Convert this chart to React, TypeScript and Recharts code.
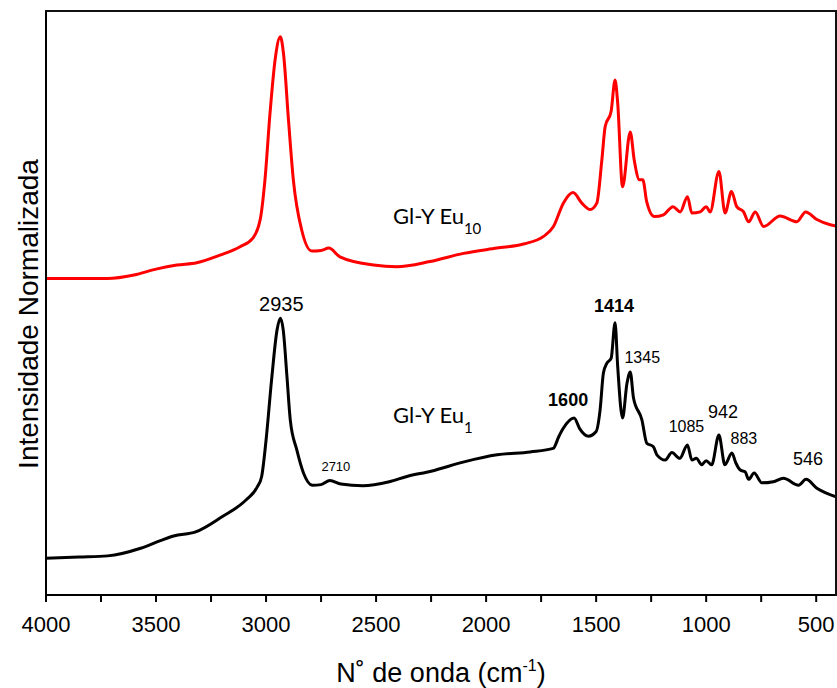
import React from 'react';
import { LineChart, Line, XAxis, YAxis, ReferenceDot, Label } from 'recharts';

// Raman spectra, normalized intensity (arbitrary units, stacked)
const euOneWavenumber = [
  4000, 3850, 3720, 3570, 3480, 3420, 3320, 3200, 3090, 3040, 3020, 3000, 2975, 2950, 2935, 2922, 2905,
  2890, 2860, 2830, 2790, 2750, 2710, 2660, 2560, 2440, 2360, 2250, 2100, 1950, 1800, 1695, 1670, 1650,
  1600, 1575, 1535, 1500, 1482, 1467, 1451, 1432, 1414, 1402, 1380, 1360, 1345, 1330, 1292, 1270, 1240,
  1224, 1186, 1156, 1120, 1085, 1065, 1045, 1020, 1000, 975, 942, 915, 883, 865, 845, 823, 807, 782, 747,
  695, 649, 580, 546, 497, 451, 410,
];
const euOneIntensity = [
  6.3, 6.5, 6.7, 8.0, 9.3, 10.1, 10.8, 13.4, 16.3, 18.5, 20.3, 26.5, 36.8, 45.4, 47.4, 45.4, 37.4,
  30.0, 24.8, 20.9, 18.8, 18.9, 19.6, 19.0, 18.7, 19.4, 20.3, 21.2, 22.8, 24.0, 24.5, 25.1, 27.1, 28.5,
  30.3, 28.5, 27.2, 28.0, 31.7, 38.0, 39.7, 40.5, 46.6, 39.1, 30.3, 36.2, 38.2, 33.7, 30.0, 26.0, 25.4,
  24.0, 23.1, 24.4, 23.4, 25.7, 23.1, 23.4, 22.3, 23.0, 22.3, 27.4, 22.3, 24.3, 22.6, 21.4, 21.1, 19.8, 20.9, 19.2,
  19.4, 20.0, 18.8, 19.8, 18.3, 17.4, 16.8,
];

const euTenWavenumber = [
  4000, 3720, 3600, 3500, 3405, 3315, 3210, 3120, 3060, 3027, 3005, 2982, 2959, 2935, 2921, 2898, 2876,
  2838, 2792, 2750, 2715, 2664, 2512, 2406, 2255, 2103, 1951, 1830, 1739, 1694, 1649, 1605, 1565, 1527,
  1497, 1474, 1459, 1432, 1414, 1402, 1380, 1345, 1327, 1303, 1288, 1270, 1236, 1194, 1151, 1118, 1085,
  1065, 1027, 1000, 982, 942, 914, 885, 861, 830, 807, 777, 739, 664, 588, 548, 497, 436, 410,
];
const euTenIntensity = [
  54.2, 54.2, 54.8, 55.8, 56.5, 56.9, 58.2, 59.6, 61.1, 64.2, 71.1, 82.5, 91.6, 95.6, 92.8, 81.3, 71.1,
  62.5, 58.9, 59.0, 59.4, 57.9, 56.5, 56.2, 57.1, 58.5, 59.4, 60.1, 61.4, 63.1, 67.1, 68.9, 67.1, 66.0,
  67.1, 74.5, 80.2, 82.8, 88.2, 84.2, 69.9, 79.3, 74.5, 71.1, 71.1, 67.3, 64.8, 65.1, 66.5, 65.6, 68.2,
  65.4, 65.6, 66.5, 65.6, 72.5, 65.4, 69.1, 66.5, 65.6, 63.9, 65.6, 63.1, 64.9, 63.9, 65.6, 64.3, 63.4, 63.2,
];

// assigned bands marked on the Eu1 spectrum
const bandPeaks = [2935, 2710, 1600, 1414, 1345, 1085, 942, 883, 546];

const seriesNames = ['Gl-Y Eu', 'Gl-Y Eu'];
const seriesSubscripts = ['10', '1'];

const xTicks = [4000, 3750, 3500, 3250, 3000, 2750, 2500, 2250, 2000, 1750, 1500, 1250, 1000, 750, 500];

const euOne = euOneWavenumber.map((x, i) => ({ x, y: euOneIntensity[i] }));
const euTen = euTenWavenumber.map((x, i) => ({ x, y: euTenIntensity[i] }));

const FONT = '"Liberation Sans", Arial, Helvetica, sans-serif';
const TAG_FONT = 'Lato, "Open Sans", sans-serif';

// label placement around each band (pixel offsets from the peak top)
const peakStyle: Record<number, { dx: number; dy: number; size: number; bold?: boolean }> = {
  2935: { dx: 1, dy: -7, size: 20 },
  2710: { dx: 6, dy: -10, size: 13 },
  1600: { dx: -6, dy: -12, size: 18, bold: true },
  1414: { dx: -1, dy: -11, size: 18, bold: true },
  1345: { dx: 12, dy: -9, size: 16 },
  1085: { dx: -1, dy: -13, size: 16 },
  942: { dx: 4, dy: -17, size: 18 },
  883: { dx: 12, dy: -9, size: 16 },
  546: { dx: 2, dy: -14, size: 18 },
};

// where the series names sit, in data coordinates
const tagAnchors = [
  { x: 2423, y: 63.6 },
  { x: 2423, y: 29.4 },
];

const peakLabel = (wn: number) => (props: any) => {
  const { viewBox } = props;
  const s = peakStyle[wn];
  return (
    <text
      x={viewBox.x + s.dx}
      y={viewBox.y + s.dy}
      textAnchor="middle"
      fontFamily={FONT}
      fontSize={s.size}
      fontWeight={s.bold ? 'bold' : 'normal'}
      fill="#000"
    >
      {wn}
    </text>
  );
};

const tagLabel = (i: number) => (props: any) => {
  const { viewBox } = props;
  return (
    <text x={viewBox.x} y={viewBox.y} fontFamily={TAG_FONT} fontSize={22} fill="#000">
      <tspan>{seriesNames[i]}</tspan>
      <tspan dy={10} fontSize={15}>{seriesSubscripts[i]}</tspan>
    </text>
  );
};

const yTitle = () => (
  <text
    x={28}
    y={314}
    transform="rotate(-90, 28, 314)"
    textAnchor="middle"
    dominantBaseline="central"
    fontFamily={FONT}
    fontSize={28}
    fill="#000"
  >
    Intensidade Normalizada
  </text>
);

const xTitle = (props: any) => {
  const { viewBox } = props;
  return (
    <text x={viewBox.x + viewBox.width / 2} y={682} textAnchor="middle" fontFamily={FONT} fontSize={27} fill="#000">
      <tspan>N˚ de onda (cm</tspan>
      <tspan dy={-11} fontSize={16}>-1</tspan>
      <tspan dy={11}>)</tspan>
    </text>
  );
};

export default function App() {
  const peakValue = (wn: number) => euOneIntensity[euOneWavenumber.indexOf(wn)];
  return (
    <div style={{ position: 'relative', width: 837, height: 688, background: '#fff' }}>
      <style>{'body{margin:0}'}</style>
      <LineChart width={837} height={688} margin={{ top: 11, right: 1, bottom: 0, left: 0 }}>
        <XAxis
          dataKey="x"
          type="number"
          domain={[410, 4000]}
          reversed
          ticks={xTicks}
          interval={0}
          allowDataOverflow
          tickFormatter={(v: number) => (v % 500 === 0 ? String(v) : '')}
          tickSize={7}
          tickMargin={14}
          height={93}
          axisLine={{ stroke: '#000', strokeWidth: 2 }}
          tickLine={{ stroke: '#000', strokeWidth: 2 }}
          tick={{ fontSize: 22, fill: '#000', fontFamily: FONT }}
        >
          <Label content={xTitle} />
        </XAxis>
        <YAxis
          type="number"
          domain={[0, 100]}
          width={46}
          tick={false}
          tickLine={false}
          axisLine={{ stroke: '#000', strokeWidth: 2 }}
        >
          <Label content={yTitle} />
        </YAxis>
        <Line
          data={euTen}
          dataKey="y"
          type="monotone"
          stroke="#ff0000"
          strokeWidth={3}
          dot={false}
          isAnimationActive={false}
        />
        <Line
          data={euOne}
          dataKey="y"
          type="monotone"
          stroke="#000000"
          strokeWidth={3}
          dot={false}
          isAnimationActive={false}
        />
        {bandPeaks.map((wn) => (
          <ReferenceDot key={wn} x={wn} y={peakValue(wn)} r={0} fill="none" stroke="none" label={peakLabel(wn)} />
        ))}
        {tagAnchors.map((a, i) => (
          <ReferenceDot key={`tag-${i}`} x={a.x} y={a.y} r={0} fill="none" stroke="none" label={tagLabel(i)} />
        ))}
      </LineChart>
      {/* top and right edges of the plot frame */}
      <div
        style={{
          position: 'absolute',
          left: 45,
          top: 10,
          width: 792,
          height: 586,
          boxSizing: 'border-box',
          borderTop: '2px solid #111',
          borderRight: '2px solid #111',
          pointerEvents: 'none',
        }}
      />
    </div>
  );
}
